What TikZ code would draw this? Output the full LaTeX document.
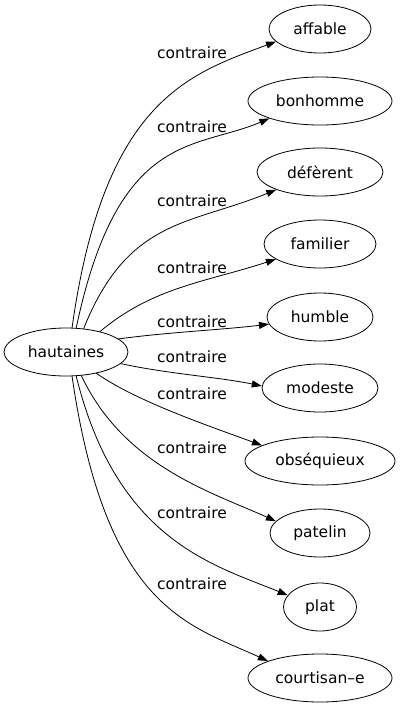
\documentclass[tikz,border=0pt]{standalone}
\usepackage{fontspec}
\setmainfont{DejaVu Sans}
\usetikzlibrary{arrows.meta,shapes.geometric}
\begin{document}
\begin{tikzpicture}[x=1pt, y=-1pt, line cap=round, line join=round, >={Triangle[length=10pt,width=7pt]},
  font=\fontsize{15.5}{17}\selectfont,
  mot/.style={draw, ellipse, inner sep=0pt, minimum height=48pt, line width=0.8pt},
  rel/.style={->, line width=0.8pt},
  lbl/.style={inner sep=1pt}]
	% cadre de la figure
	\useasboundingbox (0,0) rectangle (400,707);
	
	% noeud central
	\node[mot, minimum width=124pt] (haut) at (66,352) {hautaines};
	
	% noeuds de droite
	\node[mot, minimum width=102pt] (aff) at (320,29) {affable};
	\node[mot, minimum width=144pt] (bon) at (320,101) {bonhomme};
	\node[mot, minimum width=126pt] (def) at (320,172) {défèrent};
	\node[mot, minimum width=112pt] (fam) at (320,244) {familier};
	\node[mot, minimum width=106pt] (hum) at (320,317) {humble};
	\node[mot, minimum width=116pt] (mod) at (320,388) {modeste};
	\node[mot, minimum width=150pt] (obs) at (320,461) {obséquieux};
	\node[mot, minimum width=100pt] (pat) at (320,533) {patelin};
	\node[mot, minimum width=73pt] (pla) at (320,607) {plat};
	\node[mot, minimum width=144pt] (cou) at (320,678) {courtisan–e};
	
	% étiquettes des arcs
	\node[lbl] (l1) at (192,53) {contraire};
	\node[lbl] (l2) at (192,127) {contraire};
	\node[lbl] (l3) at (192,201) {contraire};
	\node[lbl] (l4) at (192,268) {contraire};
	\node[lbl] (l5) at (192,322) {contraire};
	\node[lbl] (l6) at (192,357) {contraire};
	\node[lbl] (l7) at (192,394) {contraire};
	\node[lbl] (l8) at (192,448) {contraire};
	\node[lbl] (l9) at (192,513) {contraire};
	\node[lbl] (l10) at (192,584) {contraire};
	
	% arcs (points de controle)
	\draw[rel] (haut.76) .. controls (104,100) and (189,74) .. (aff.196);
	\draw[rel] (haut.67) .. controls (118,130) and (195,150) .. (bon.199);
	\draw[rel] (haut.53) .. controls (128,218) and (190,225) .. (def.202);
	\draw[rel] (haut.31) .. controls (153,287) and (206,282) .. (fam.199);
	\draw[rel] (haut.14) .. controls (170,332) and (220,330) .. (hum.188);
	\draw[rel] (haut.-12) .. controls (169,374) and (218,377) .. (mod.178);
	\draw[rel] (haut.-35) .. controls (137,402) and (215,428) .. (obs.165);
	\draw[rel] (haut.-57) .. controls (124,466) and (211,492) .. (pat.165);
	\draw[rel] (haut.-67) .. controls (117,541) and (214,565) .. (pla.160);
	\draw[rel] (haut.-76) .. controls (106,610) and (190,625) .. (cou.162);
\end{tikzpicture}
\end{document}
